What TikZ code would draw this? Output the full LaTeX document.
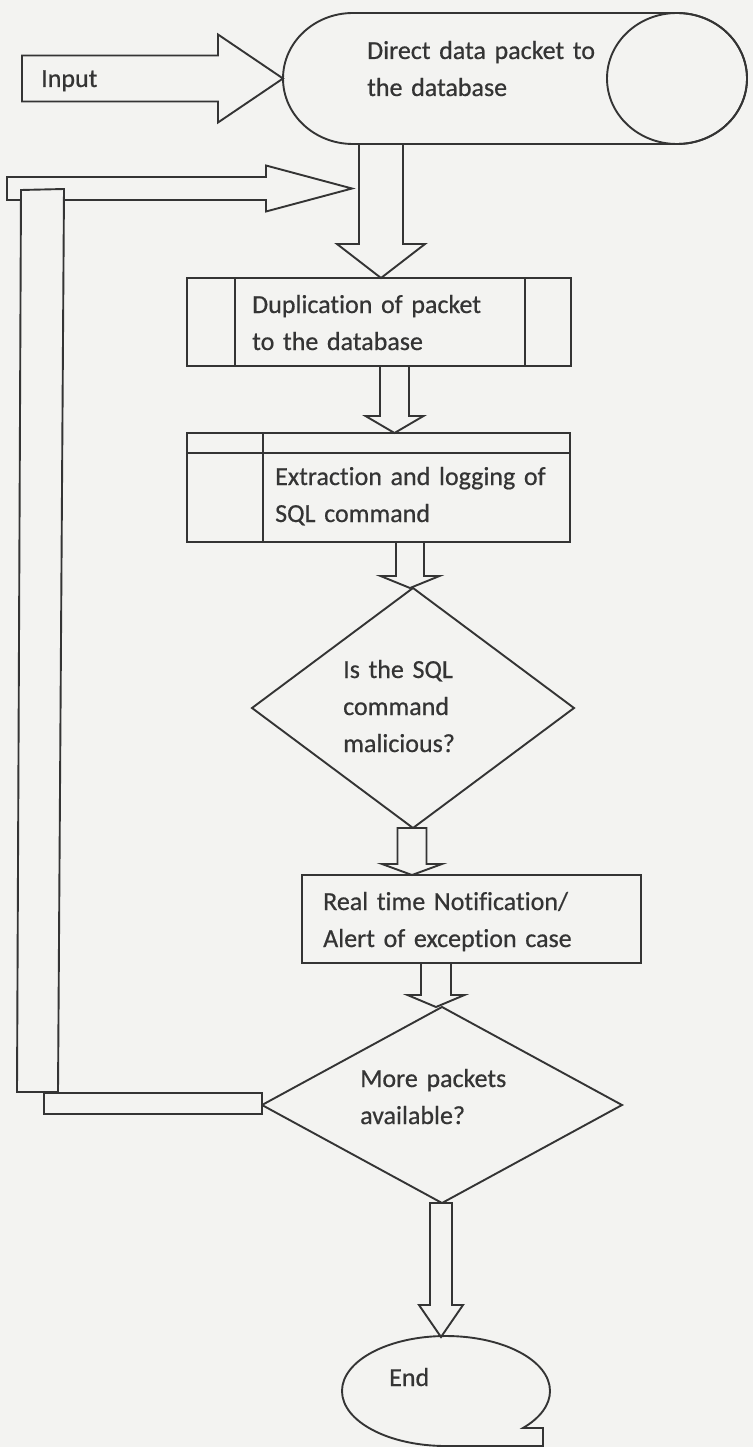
\documentclass[tikz,border=0pt]{standalone}
\usepackage{fontspec}
\setmainfont{Carlito}[Ligatures={NoCommon}, UprightFeatures={FakeBold=0.6}]
\usetikzlibrary{calc,shapes.geometric}

\definecolor{paper}{RGB}{243,243,241}
\definecolor{ink}{RGB}{52,52,52}
\definecolor{textink}{RGB}{52,52,52}

\tikzset{
  outline/.style={draw=ink, line width=1.9pt, line join=miter},
  blk/.style={outline, fill=paper},
  lbl/.style={anchor=base west, inner sep=0pt, text width=340pt, align=left,
              text=textink, font=\fontsize{26}{37}\selectfont},
  boxshape/.style={outline, rectangle, inner sep=0pt, outer sep=0pt},
  decision/.style={outline, diamond, inner sep=0pt, outer sep=0pt},
  ghost/.style={rectangle, inner sep=0pt, outer sep=0pt},
}

% downward block arrow: #1 x, #2 start anchor, #3 tip anchor,
% #4 half shaft width, #5 half head width, #6 head length
\newcommand\downblock[6]{%
  \draw[blk] let \p1=#2, \p2=#3 in
    (#1pt-#4pt,\y1) -- (#1pt-#4pt,\y2+#6pt) -- (#1pt-#5pt,\y2+#6pt) -- (#1pt,\y2)
    -- (#1pt+#5pt,\y2+#6pt) -- (#1pt+#4pt,\y2+#6pt) -- (#1pt+#4pt,\y1) -- cycle;}

% rightward block arrow: #1 tail, #2 tip, #3 half shaft, #4 half head, #5 head length
\newcommand\rightblock[5]{%
  \draw[blk] let \p1=#1, \p2=#2 in
    (\x1,\y2+#3pt) -- (\x2-#5pt,\y2+#3pt) -- (\x2-#5pt,\y2+#4pt) -- (\x2,\y2)
    -- (\x2-#5pt,\y2-#4pt) -- (\x2-#5pt,\y2-#3pt) -- (\x1,\y2-#3pt) -- cycle;}

\begin{document}
\begin{tikzpicture}[x=1pt,y=-1pt]
\fill[paper] (0,0) rectangle (753,1447);
\useasboundingbox (0,0) rectangle (753,1447);

% database cylinder lying on its side
\node[ghost, minimum width=464pt, minimum height=131pt] (db) at (515,78.5) {};
\draw[outline] (353,13) -- (677,13)
  arc[start angle=270, end angle=450, x radius=70, y radius=65.5]
  -- (353,144)
  arc[start angle=90, end angle=270, x radius=70, y radius=65.5] -- cycle;
\draw[outline] (677,78.5) ellipse[x radius=70, y radius=65.5];

% process steps
\node[boxshape, minimum width=384pt, minimum height=88pt] (dup) at (379,322) {};
\draw[outline] ([xshift=48pt]dup.north west) -- ([xshift=48pt]dup.south west);
\draw[outline] ([xshift=-46pt]dup.north east) -- ([xshift=-46pt]dup.south east);

\node[boxshape, minimum width=383pt, minimum height=109pt] (ext) at (378.5,487.5) {};
\draw[outline] ([xshift=76pt]ext.north west) -- ([xshift=76pt]ext.south west);
\draw[outline] ([yshift=-20pt]ext.north west) -- ([yshift=-20pt]ext.north east);

\node[decision, minimum width=322pt, minimum height=240pt] (q1) at (413,708) {};
\node[boxshape, minimum width=339pt, minimum height=88pt] (note) at (471.5,919) {};
\node[decision, minimum width=360pt, minimum height=196pt] (q2) at (442,1105) {};

% terminal with tape tail
\node[ghost, minimum width=208pt, minimum height=108pt] (end) at (446,1391) {};
\draw[outline] (446,1446)
  arc[start angle=90, end angle=402.3, x radius=104, y radius=55]
  -- (543,1428) -- (543,1446) -- cycle;

% input arrow
\coordinate (inputtail) at (22,78.5);
\rightblock{(inputtail)}{(db.west)}{23}{44}{65}

% loop-back arrow
\coordinate (looptail) at (7,188.5);
\coordinate (looptip) at (352,188.5);
\rightblock{(looptail)}{(looptip)}{11.5}{23}{86}
\draw[outline, fill=paper] (21,190) -- (64,189) -- (58,1092) -- (17,1092) -- cycle;
\draw[outline, fill=paper] ($(q2.west)+(-218,-12)$) rectangle ($(q2.west)+(0,9)$);

% flow arrows
\downblock{381}{(db.south)}{(dup.north)}{22}{44}{34}
\downblock{394.5}{(dup.south)}{(ext.north)}{14.5}{29}{17}
\downblock{410}{(ext.south)}{(q1.north)}{14}{29.5}{12}
\downblock{412}{(q1.south)}{(note.north)}{14.5}{30}{11}
\downblock{436}{(note.south)}{(q2.north)}{15}{28.5}{12}
\downblock{441}{(q2.south)}{(end.north)}{11}{22}{32}

% labels
\node[lbl] (intext) at (41,87) {Input};
\node[lbl] (dbtext) at (367,59) {Direct data packet to\\the database};
\node[lbl] (duptext) at (252,313) {Duplication of packet\\to the database};
\node[lbl] (exttext) at (275,485) {Extraction and logging of\\SQL command};
\node[lbl] (q1text) at (343,678) {Is the SQL\\command\\malicious?};
\node[lbl] (notetext) at (323,910) {Real time Notification/\\Alert of exception case};
\node[lbl] (q2text) at (360,1087) {More packets\\available?};
\node[lbl] (endtext) at (389,1386) {End};
\end{tikzpicture}
\end{document}
